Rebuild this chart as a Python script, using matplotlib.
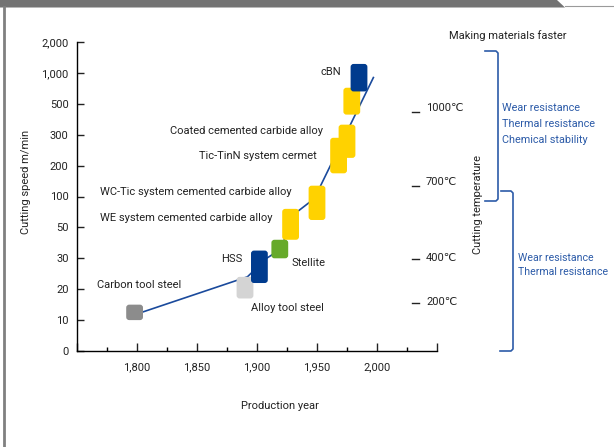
import numpy as np
import matplotlib
matplotlib.use('Agg')
import matplotlib.pyplot as plt
from matplotlib.patches import FancyBboxPatch, Polygon

plt.rcParams['font.family'] = ['Roboto', 'DejaVu Sans']

# y axis is a stepped scale: ticks equally spaced
speed_ticks = [0, 10, 20, 30, 50, 100, 200, 300, 500, 1000, 2000]
speed_tick_labels = ['0', '10', '20', '30', '50', '100', '200', '300', '500', '1,000', '2,000']
year_ticks = [1750, 1800, 1850, 1900, 1950, 2000, 2050]
year_tick_labels = ['', '1,800', '1,850', '1,900', '1,950', '2,000', '']

materials = ['Carbon tool steel', 'Alloy tool steel', 'HSS', 'Stellite',
             'WE system cemented carbide alloy', 'WC-Tic system cemented carbide alloy',
             'Tic-TinN system cermet', 'Coated cemented carbide alloy', '', 'cBN']
years = [1798, 1890, 1902, 1919, 1928, 1950, 1968, 1975, 1979, 1985]
speed_low = [10, 17, 22, 30, 42, 62, 175, 225, 430, 700]
speed_high = [15, 24, 35, 42, 80, 135, 290, 365, 760, 1290]
colors = ['#8c8c8c', '#d4d4d4', '#003b8e', '#66aa2a', '#ffd200', '#ffd200',
          '#ffd200', '#ffd200', '#ffd200', '#003b8e']

trend_years = [1800, 1892, 1908, 1920, 1930, 1950, 1953, 1997]
trend_speed = [12, 24, 30, 36, 70, 100, 135, 925]

temp_labels = ['1000℃', '700℃', '400℃', '200℃']

idx = np.arange(len(speed_ticks), dtype=float)


def fwd(v):
    return np.interp(v, speed_ticks, idx)


def inv(i):
    return np.interp(i, idx, speed_ticks)


W, H = 614, 447
fs = 8
fig = plt.figure(figsize=(W / 100, H / 100), dpi=100)
ax = fig.add_axes([77 / W, 1 - 351 / H, 360 / W, 309 / H])
ax.set_yscale('function', functions=(fwd, inv))
ax.set_xlim(1750, 2050)
ax.set_ylim(0, 2000)

for s in ['top', 'right']:
    ax.spines[s].set_visible(False)
for s in ['left', 'bottom']:
    ax.spines[s].set_linewidth(1.0)

ax.set_yticks(speed_ticks)
ax.set_yticklabels(speed_tick_labels)
ax.yaxis.set_minor_locator(matplotlib.ticker.NullLocator())
ax.set_xticks(year_ticks)
ax.set_xticklabels(year_tick_labels)
ax.set_xticks(np.arange(1775, 2050, 50), minor=True)
ax.tick_params(axis='y', direction='in', length=5, width=1, pad=6, labelsize=fs, colors='#222222')
ax.tick_params(axis='x', which='major', direction='in', length=6, width=1, pad=8, labelsize=fs, colors='#222222')
ax.tick_params(axis='x', which='minor', direction='in', length=3, width=1)

# trend line
ax.plot(trend_years, trend_speed, color='#1a4a9c', lw=1.2, zorder=2)

# rounded boxes drawn in (year, scaled speed) space
tr = ax.transLimits + ax.transAxes
bw = 14
px_year = 360 / 300
px_idx = 309 / 10
for yr, lo, hi, c in zip(years, speed_low, speed_high, colors):
    y0 = fwd(lo)
    box = FancyBboxPatch((yr - bw / 2, y0), bw, fwd(hi) - y0,
                         boxstyle='round,pad=0,rounding_size=2.5',
                         mutation_aspect=px_year / px_idx,
                         transform=tr, facecolor=c, edgecolor='none', zorder=3)
    ax.add_patch(box)

# material labels
lab_kw = dict(fontsize=fs, color='#222222', va='center')
ax.text(1970, 1015, 'cBN', ha='right', **lab_kw)
ax.text(1955, 326, materials[7], ha='right', **lab_kw)
ax.text(1950, 232, materials[6], ha='right', **lab_kw)
ax.text(1929, 113, materials[5], ha='right', **lab_kw)
ax.text(1912.5, 66, materials[4], ha='right', **lab_kw)
ax.text(1888, 29.7, materials[2], ha='right', **lab_kw)
ax.text(1929, 28.4, materials[3], ha='left', **lab_kw)
ax.text(1767, 21.3, materials[0], ha='left', **lab_kw)
ax.text(1895, 13.9, materials[1], ha='left', **lab_kw)

# overlay in pixel coords for frame and side notes
ov = fig.add_axes([0, 0, 1, 1], zorder=5)
ov.set_xlim(0, W)
ov.set_ylim(H, 0)
ov.axis('off')
ov.add_patch(Polygon([(0, 0), (557, 0), (565, 7.5), (0, 7.5)], closed=True,
                     facecolor='#737373', edgecolor='none'))
ov.plot([565, W], [6, 6], color='#9a9a9a', lw=0.8)
ov.plot([4, 4], [7, H], color='#808080', lw=2)

ov.text(26, 182, 'Cutting speed m/min', rotation=90, ha='center', va='center',
        fontsize=fs, color='#222222')
ov.text(280, 406, 'Production year', ha='center', va='center', fontsize=fs, color='#222222')
ov.text(508, 36, 'Making materials faster', ha='center', va='center', fontsize=fs,
        color='#222222')

temp_y = [108, 182, 258, 302]
dash_off = [4, 4, 1, 1]
for t, y, d in zip(temp_labels, temp_y, dash_off):
    ov.plot([412, 419], [y + d, y + d], color='#222222', lw=1)
    ov.text(426, y, t, ha='left', va='center', fontsize=fs, color='#222222')
ov.text(478, 204, 'Cutting temperature', rotation=90, ha='center', va='center',
        fontsize=fs, color='#222222')

blue = '#2c5ba8'
ov.plot([485, 496, 498, 498, 496, 485], [51, 51, 53, 199, 201, 201], color=blue, lw=1.2)
ov.plot([501, 511, 513, 513, 511, 500], [191, 191, 193, 349, 351, 351], color=blue, lw=1.2)
for i, t in enumerate(['Wear resistance', 'Thermal resistance', 'Chemical stability']):
    ov.text(502, 108 + 16 * i, t, ha='left', va='center', fontsize=7.8, color=blue)
for i, t in enumerate(['Wear resistance', 'Thermal resistance']):
    ov.text(518, 258 + 14 * i, t, ha='left', va='center', fontsize=7.6, color=blue)

fig.savefig('out.png', dpi=100)
